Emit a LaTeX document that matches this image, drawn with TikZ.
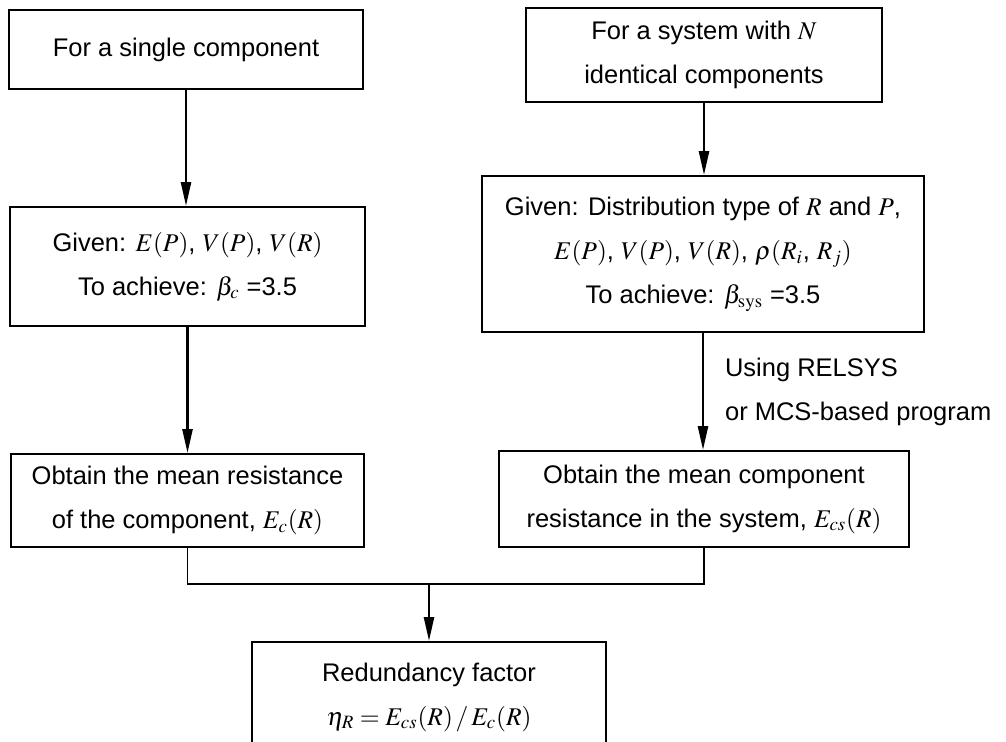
\documentclass[tikz,border=0pt]{standalone}
\usepackage{mathptmx}
\usepackage[no-math]{fontspec}
\setmainfont{Liberation Sans}
\usepackage{amsmath}
\usetikzlibrary{arrows.meta, positioning}
\tikzset{
	flowbox/.style={draw, line width=1.1pt, align=center, inner sep=0pt, font=\fontsize{14.5}{25}\selectfont}
}
\tikzset{
	sidetext/.style={align=left, font=\fontsize{14.5}{25}\selectfont}
}
\tikzset{
	flowarrow/.style={->, line width=1.4pt}
}

\begin{document}
\begin{tikzpicture}[>={Triangle[length=4.8mm,width=2mm]}, line width=1.1pt]
      \useasboundingbox (0,0) rectangle (20.12,-14.84);
      \clip (0,0) rectangle (20.12,-14.84);
      % left column: single component
      \node[flowbox, minimum width=7.08cm, minimum height=1.58cm] (single) at (3.72,-0.99) {For a single component};
      \node[flowbox, minimum width=7.10cm, minimum height=2.38cm] (givenc) at (3.75,-5.33) {Given: $E(P)$, $V(P)$, $V(R)$\\ To achieve: $\beta_c$ =3.5};
      \node[flowbox, minimum width=7.06cm, minimum height=1.86cm] (meanc) at (3.75,-10.01) {Obtain the mean resistance\\ of the component, $E_c(R)$};
      % right column: system with N components
      \node[flowbox, minimum width=7.12cm, minimum height=1.88cm] (system) at (14.08,-1.10) {For a system with $N$\\ identical components};
      \node[flowbox, minimum width=8.84cm, minimum height=3.12cm] (givens) at (14.06,-5.08) {Given: Distribution type of $R$ and $P$,\\ $E(P)$, $V(P)$, $V(R)$, $\rho(R_i$, $R_j)$\\ To achieve: $\beta_{\mathrm{sys}}$ =3.5};
      \node[flowbox, minimum width=8.20cm, minimum height=1.92cm] (meancs) at (14.08,-9.98) {Obtain the mean component\\ resistance in the system, $E_{cs}(R)$};
      % result
      \node[flowbox, minimum width=7.08cm, minimum height=2.20cm] (redund) at (8.58,-13.94) {Redundancy factor\\ $\eta_R = E_{cs}(R)\,/\,E_c(R)$};
      \coordinate (join) at (8.58,-11.68);

      \draw[flowarrow] (single.south) -- (single.south |- givenc.north);
      \draw[flowarrow] (givenc.south) -- (givenc.south |- meanc.north);
      \draw[flowarrow] (system.south) -- (system.south |- givens.north);
      \draw[flowarrow] (givens.south) -- (givens.south |- meancs.north) node[midway, right, xshift=0.3cm, sidetext] {Using RELSYS\\ or MCS-based program};
      % both mean resistances feed the redundancy factor
      \draw (meanc.south) |- (join) -| (meancs.south);
      \draw[flowarrow] (join) -- (redund.north);
    \end{tikzpicture}
\end{document}
